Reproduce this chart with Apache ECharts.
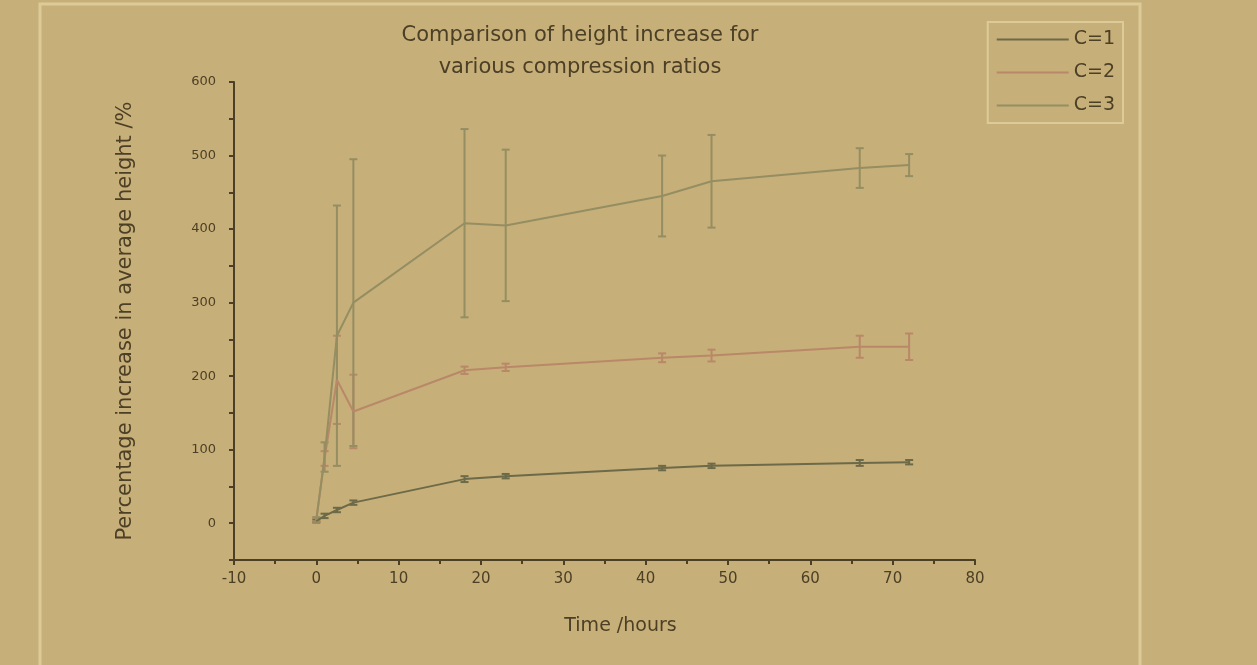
<!DOCTYPE html>
<html style="height: 100%">
<head>
    <meta charset="utf-8">
    <title>Comparison of height increase</title>
    <script type="text/javascript" src="https://cdn.jsdelivr.net/npm/echarts@6/dist/echarts.min.js"></script>
</head>
<body style="height: 100%; margin: 0; background: #c7af79">
    <div id="container" style="width: 1257px; height: 665px"></div>

    <script type="text/javascript">
        // time points (hours)
        var times = [0, 1, 2.5, 4.5, 18, 23, 42, 48, 66, 72];
        var names = ['C=1', 'C=2', 'C=3'];

        // mean % increase in height, and error (+/-)
        var c1 = [3, 10, 18, 28, 60, 64, 75, 78, 82, 83];
        var c1Err = [2, 3, 3, 3, 4, 3, 3, 3, 4, 3];
        var c2 = [5, 88, 195, 152, 208, 212, 225, 228, 240, 240];
        var c2Err = [3, 10, 60, 50, 5, 5, 6, 8, 15, 18];
        var c3 = [5, 90, 255, 300, 408, 405, 445, 465, 483, 487];
        var c3Err = [3, 20, 177, 195, 128, 103, 55, 63, 27, 15];

        var colors = ['#6c6a48', '#b98868', '#948e62'];
        var ink = '#4b3f25';

        function lineData(vals) {
            return times.map(function (t, i) { return [t, vals[i]]; });
        }

        function errData(vals, errs) {
            return times.map(function (t, i) { return [t, vals[i] - errs[i], vals[i] + errs[i]]; });
        }

        function errSeries(vals, errs, color) {
            return {
                type: 'custom',
                name: 'err',
                z: 3,
                silent: true,
                encode: { x: 0, y: [1, 2] },
                data: errData(vals, errs),
                renderItem: function (params, api) {
                    var x = api.value(0);
                    var top = api.coord([x, api.value(2)]);
                    var bot = api.coord([x, api.value(1)]);
                    var w = 4;
                    var st = { stroke: color, lineWidth: 2 };
                    return {
                        type: 'group',
                        children: [
                            { type: 'line', shape: { x1: top[0], y1: top[1], x2: bot[0], y2: bot[1] }, style: st },
                            { type: 'line', shape: { x1: top[0] - w, y1: top[1], x2: top[0] + w, y2: top[1] }, style: st },
                            { type: 'line', shape: { x1: bot[0] - w, y1: bot[1], x2: bot[0] + w, y2: bot[1] }, style: st }
                        ]
                    };
                }
            };
        }

        function lineSeries(name, vals, color) {
            return {
                name: name,
                type: 'line',
                symbol: 'none',
                z: 4,
                lineStyle: { color: color, width: 2 },
                itemStyle: { color: color },
                data: lineData(vals)
            };
        }

        var dom = document.getElementById('container');
        var myChart = echarts.init(dom);
        var option = {
            backgroundColor: '#c7af79',
            animation: false,
            graphic: [
                {
                    type: 'rect',
                    shape: { x: 40, y: 4, width: 1100, height: 700 },
                    style: { fill: 'none', stroke: '#dccb98', lineWidth: 3 }
                },
                {
                    type: 'text',
                    x: 580,
                    y: 20,
                    style: {
                        text: 'Comparison of height increase for\nvarious compression ratios',
                        align: 'center',
                        font: '21px "DejaVu Sans"',
                        lineHeight: 32,
                        fill: ink
                    }
                }
            ],
            legend: {
                orient: 'vertical',
                right: 134,
                top: 22,
                data: names,
                itemWidth: 72,
                itemHeight: 18,
                itemGap: 14,
                padding: [8, 8, 8, 8],
                borderColor: '#dccb98',
                borderWidth: 2,
                itemStyle: { opacity: 0 },
                textStyle: { fontFamily: 'DejaVu Sans', fontSize: 19, color: ink }
            },
            grid: {
                left: 234,
                right: 282,
                top: 82,
                bottom: 105
            },
            xAxis: {
                type: 'value',
                min: -10,
                max: 80,
                interval: 10,
                name: 'Time /hours',
                nameLocation: 'middle',
                nameGap: 57,
                nameTextStyle: { fontFamily: 'DejaVu Sans', fontSize: 19, color: ink, padding: [0, 0, 0, 32] },
                splitLine: { show: false },
                axisLine: { onZero: false, lineStyle: { color: ink, width: 2 } },
                axisTick: { length: 5, lineStyle: { color: ink, width: 2 } },
                minorTick: { show: true, splitNumber: 2, length: 4, lineStyle: { color: ink, width: 2 } },
                axisLabel: { margin: 12, fontFamily: 'DejaVu Sans', fontSize: 15, color: ink }
            },
            yAxis: {
                type: 'value',
                min: -50,
                max: 600,
                interval: 50,
                name: 'Percentage increase in average height /%',
                nameLocation: 'middle',
                nameGap: 98,
                nameTextStyle: { fontFamily: 'DejaVu Sans', fontSize: 21, color: ink },
                splitLine: { show: false },
                axisLine: { show: true, onZero: false, lineStyle: { color: ink, width: 2 } },
                axisTick: { show: true, length: 5, lineStyle: { color: ink, width: 2 } },
                axisLabel: {
                    margin: 18,
                    fontFamily: 'DejaVu Sans',
                    fontSize: 13,
                    color: ink,
                    formatter: function (v) {
                        return (v >= 0 && v % 100 === 0) ? String(v) : '';
                    }
                }
            },
            series: [
                lineSeries(names[0], c1, colors[0]),
                lineSeries(names[1], c2, colors[1]),
                lineSeries(names[2], c3, colors[2]),
                errSeries(c1, c1Err, colors[0]),
                errSeries(c2, c2Err, colors[1]),
                errSeries(c3, c3Err, colors[2])
            ]
        };
        myChart.setOption(option, true);
    </script>
</body>
</html>
